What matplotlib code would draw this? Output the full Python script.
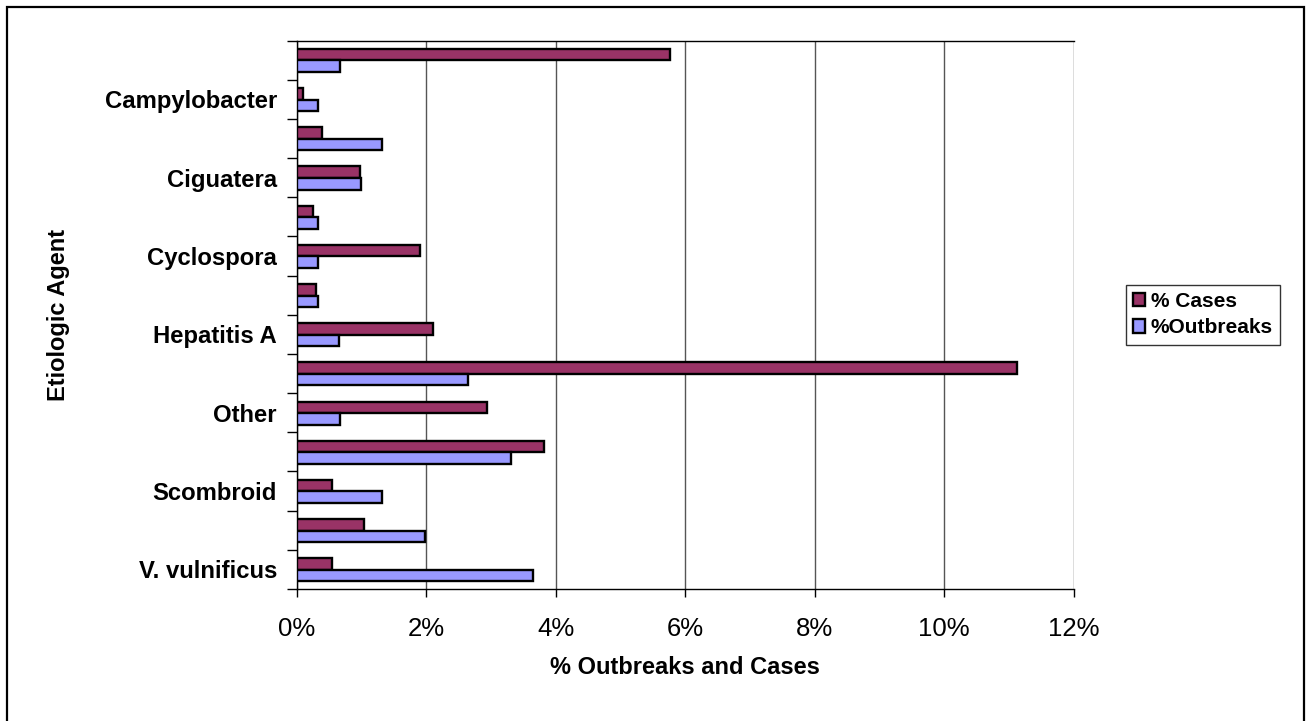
import numpy as np
import matplotlib
matplotlib.use('Agg')
import matplotlib.pyplot as plt
from matplotlib.patches import Rectangle, Patch
from matplotlib.ticker import FuncFormatter

plt.rcParams['font.family'] = ['Liberation Sans', 'DejaVu Sans']

# etiologic agents, top to bottom (every other name shown on the axis)
agents = ['', 'Campylobacter', '', 'Ciguatera', '', 'Cyclospora', '',
          'Hepatitis A', '', 'Other', '', 'Scombroid', '', 'V. vulnificus']
pct_cases = [5.77, 0.10, 0.39, 0.97, 0.24, 1.90, 0.29,
             2.10, 11.13, 2.93, 3.81, 0.54, 1.03, 0.54]
pct_outbreaks = [0.66, 0.33, 1.32, 0.99, 0.33, 0.33, 0.33,
                 0.65, 2.64, 0.66, 3.30, 1.32, 1.97, 3.64]

red = '#993366'
blue = '#9999FF'

fig = plt.figure(figsize=(13.07, 7.21), dpi=100)
ax = fig.add_axes([297/1307, 1 - 589/721, (1073.7 - 297)/1307, (589 - 40.5)/721])

y = np.arange(len(agents))
h = 0.295
ax.barh(y - h/2 + 0.01, pct_cases, height=h, color=red, edgecolor='black', linewidth=1.7, zorder=3)
ax.barh(y + h/2 + 0.01, pct_outbreaks, height=h, color=blue, edgecolor='black', linewidth=1.7, zorder=3)

ax.set_xlim(0, 12)
ax.set_ylim(len(agents) - 0.5, -0.5)

ax.set_xticks(np.arange(0, 13, 2))
ax.xaxis.set_major_formatter(FuncFormatter(lambda v, p: '%d%%' % v))
ax.tick_params(axis='x', direction='out', length=6, width=1, pad=14, labelsize=18.5)
ax.grid(axis='x', color='#555555', linewidth=1, zorder=0)

# boundary ticks between categories, names at centres
ax.set_yticks(np.arange(-0.5, len(agents), 1))
ax.set_yticklabels([])
ax.set_yticks(y, minor=True)
ax.set_yticklabels(agents, minor=True, fontsize=17.2, fontweight='bold')
ax.tick_params(axis='y', which='major', direction='out', length=7, width=1)
ax.tick_params(axis='y', which='minor', length=0, pad=14.4)

for s in ['left', 'bottom', 'top']:
    ax.spines[s].set_color('black')
    ax.spines[s].set_linewidth(1)
ax.spines['right'].set_visible(False)

ax.set_xlabel('% Outbreaks and Cases', fontsize=17, fontweight='bold', labelpad=14)
ax.set_ylabel('Etiologic Agent', fontsize=17, fontweight='bold')
ax.yaxis.set_label_coords(-(297 - 58)/(1073.7 - 297), 0.5)
ax.xaxis.set_label_coords(0.5, -(668 - 589)/(589 - 40.5))
ax.xaxis.label.set_va('center')
ax.yaxis.label.set_va('center')

handles = [Patch(facecolor=red, edgecolor='black', linewidth=1.7, label='% Cases'),
           Patch(facecolor=blue, edgecolor='black', linewidth=1.7, label='%Outbreaks')]
leg = fig.legend(handles=handles, loc='center left', bbox_to_anchor=(1125.7/1307, 1 - 314.8/721),
                 prop={'weight': 'bold', 'size': 15}, frameon=True, fancybox=False,
                 edgecolor='black', handlelength=0.6, handleheight=0.6, handletextpad=0.25,
                 borderpad=0.35, labelspacing=0.35, borderaxespad=0)
leg.get_frame().set_linewidth(1)

# outer chart border
fig.add_artist(Rectangle((7/1307, -0.05), (1304 - 7)/1307, 1.05 - 7/721,
                         transform=fig.transFigure, fill=False, edgecolor='black', linewidth=1.6))

fig.savefig('out.png', dpi=100)
